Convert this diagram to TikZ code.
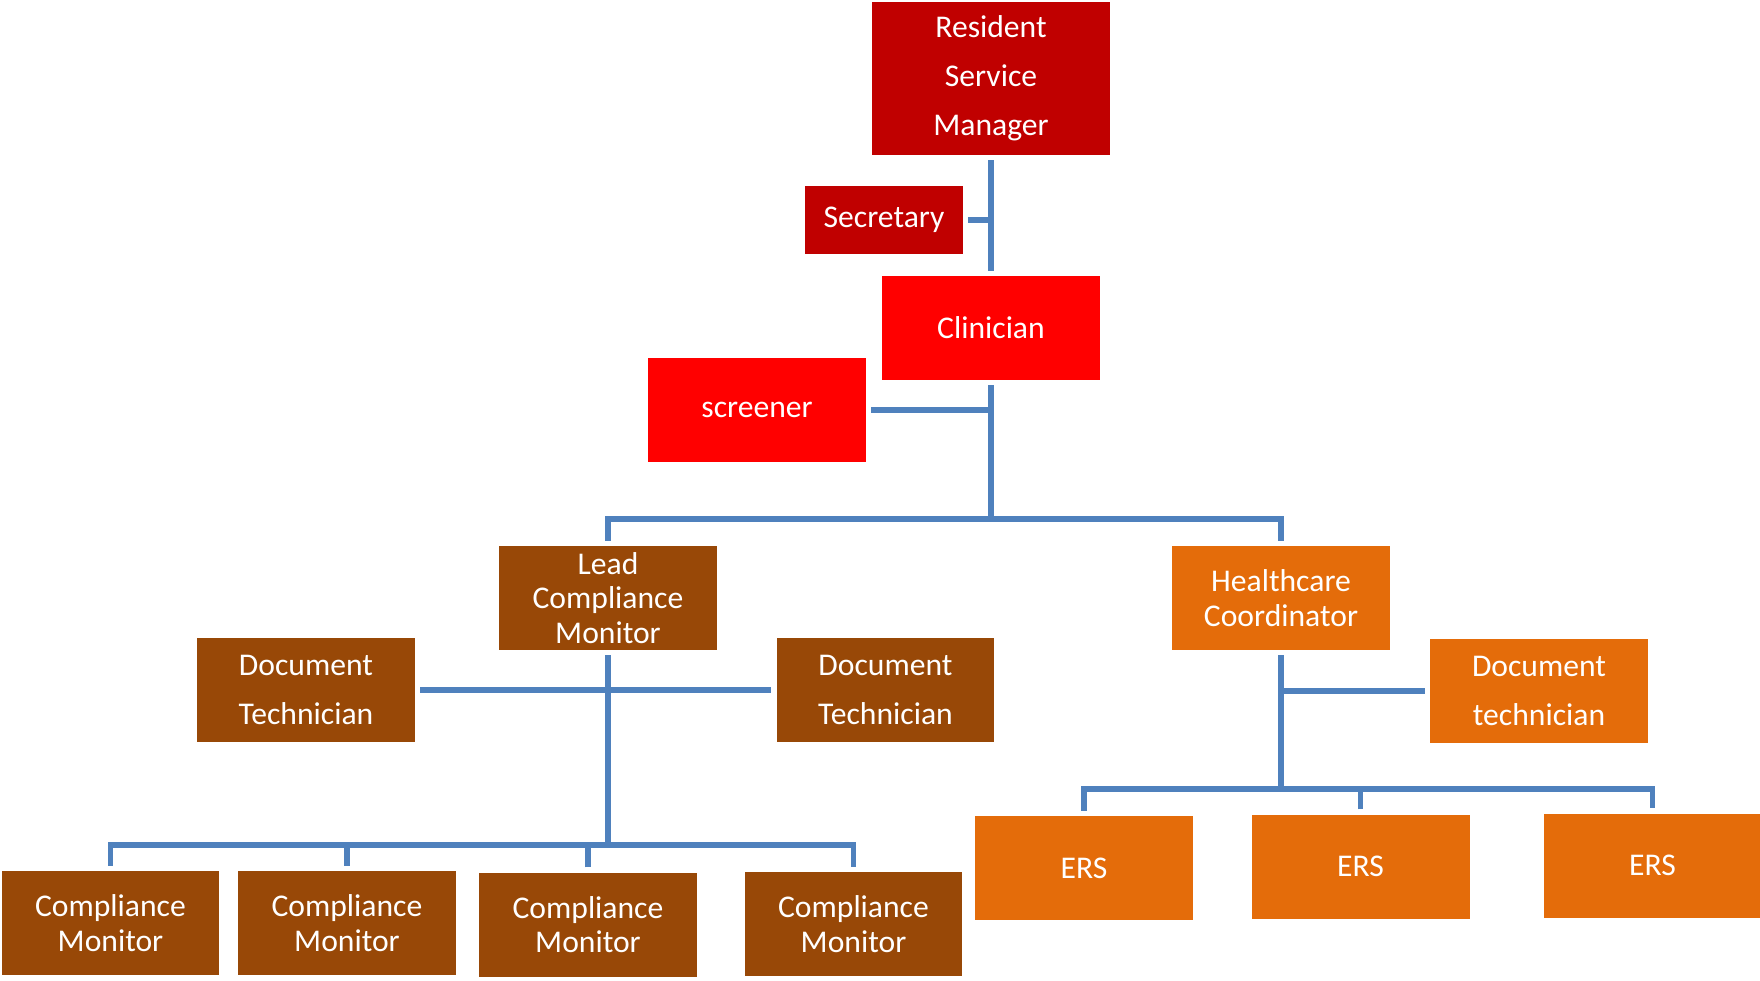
\documentclass[tikz,border=0pt]{standalone}
\usepackage{fontspec}
\setmainfont{Carlito}
\definecolor{mgrred}{HTML}{C00000}
\definecolor{clinred}{HTML}{FF0000}
\definecolor{cmbrown}{HTML}{984807}
\definecolor{hcorange}{HTML}{E46C0A}
\definecolor{linkblue}{HTML}{4F81BD}
\begin{document}
\begin{tikzpicture}[x=0.02cm, y=-0.02cm,
    role/.style={rectangle, inner sep=0pt, outer sep=3pt, text=white, align=center,
      minimum width=4.36cm, minimum height=2.08cm, font=\fontsize{18}{19.5}\selectfont},
    tall/.style={font=\fontsize{18}{28}\selectfont},
    link/.style={draw=linkblue, line width=3pt}]
  \useasboundingbox (0,0) rectangle (1760,980);

  % Top of the chart
  \node[role, tall, fill=mgrred, minimum width=4.78cm, minimum height=3.06cm] (rsm) at (991,78.5) {Resident\\Service\\Manager};
  \node[role, fill=mgrred, minimum width=3.16cm, minimum height=1.36cm] (sec) at (884,220) {Secretary};
  \node[role, fill=clinred] (clin) at (991,328) {Clinician};
  \node[role, fill=clinred] (scr) at (757,410) {screener};

  % Second level
  \node[role, fill=cmbrown] (lcm) at (608,598) {Lead\\Compliance\\Monitor};
  \node[role, fill=hcorange] (hc) at (1281,598) {Healthcare\\Coordinator};

  % Document technicians
  \node[role, tall, fill=cmbrown] (dtl) at (306,690) {Document\\Technician};
  \node[role, tall, fill=cmbrown] (dtr) at (885.5,690) {Document\\Technician};
  \node[role, tall, fill=hcorange] (dto) at (1539,691) {Document\\technician};

  % Compliance monitors
  \node[role, fill=cmbrown] (cm1) at (110.5,923) {Compliance\\Monitor};
  \node[role, fill=cmbrown] (cm2) at (347,923) {Compliance\\Monitor};
  \node[role, fill=cmbrown] (cm3) at (588,924.5) {Compliance\\Monitor};
  \node[role, fill=cmbrown] (cm4) at (853.5,924) {Compliance\\Monitor};

  % ERS
  \node[role, fill=hcorange] (ers1) at (1084,868) {ERS};
  \node[role, fill=hcorange] (ers2) at (1360.5,866.5) {ERS};
  \node[role, fill=hcorange] (ers3) at (1652.5,865.5) {ERS};

  % Bus points
  \coordinate (bus1) at (991,519);
  \coordinate (bus2) at (608,845);
  \coordinate (bus3) at (1281,789);

  % Connectors
  \draw[link] (rsm) -- (clin);
  \draw[link] (sec.east) -- (sec.east -| rsm);
  \draw[link] (scr.east) -- (scr.east -| clin);
  \draw[link] (clin.south) -- (bus1);
  \draw[link] (lcm.north) |- (bus1) -| (hc.north);

  \draw[link] (dtl.east) -- (dtr.west);
  \draw[link] (lcm.south) -- (bus2);
  \draw[link] (cm1.north) |- (bus2) -| (cm4.north);
  \draw[link] (cm2.north) -- (cm2.north |- bus2);
  \draw[link] (cm3.north) -- (cm3.north |- bus2);

  \draw[link] (hc.south) -- (bus3);
  \draw[link] (dto.west) -- (dto.west -| hc);
  \draw[link] (ers1.north) |- (bus3) -| (ers3.north);
  \draw[link] (ers2.north) -- (ers2.north |- bus3);
\end{tikzpicture}
\end{document}
